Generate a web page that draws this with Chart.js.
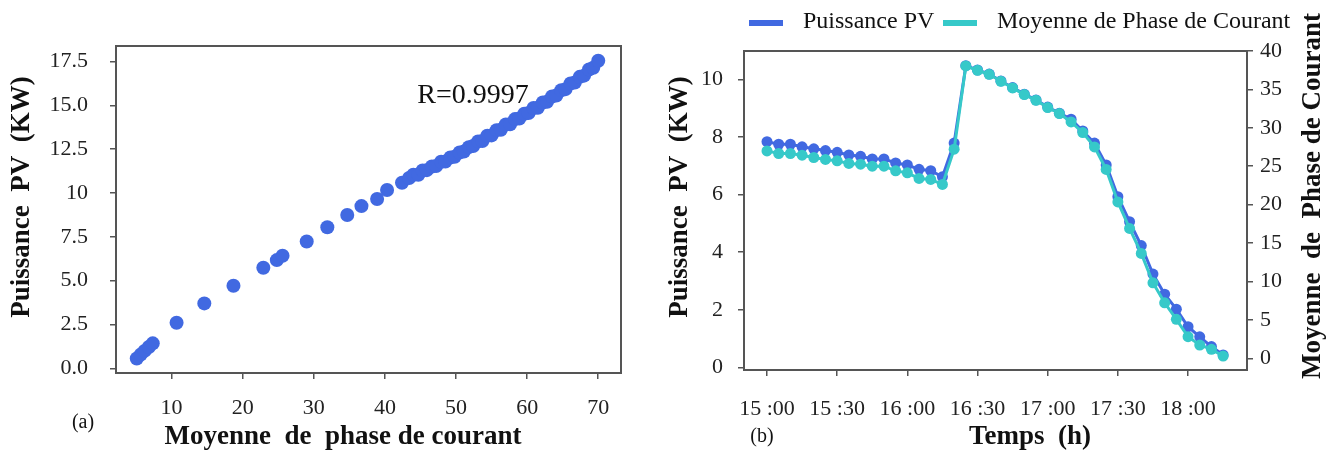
<!DOCTYPE html>
<html>
<head>
<meta charset="utf-8">
<script src="https://cdn.jsdelivr.net/npm/chart.js@4"></script>
<style>
  body { margin: 0; background: #fff; }
  #wrapA { position: absolute; left: 0; top: 0; width: 660px; height: 454px; }
  #wrapB { position: absolute; left: 660px; top: 0; width: 681px; height: 454px; }
</style>
</head>
<body>
<div id="wrapA"><canvas id="chartA" width="660" height="454"></canvas></div>
<div id="wrapB"><canvas id="chartB" width="681" height="454"></canvas></div>
<script>
// (a) moyenne de phase de courant vs puissance PV
const currentA = [5.1, 5.65, 6.2, 6.8, 7.35, 10.7, 14.6, 18.7, 22.9, 24.8, 25.6, 29.0, 31.9, 34.7, 36.7, 38.9, 40.3, 42.4,
  43.4, 44.0, 44.7, 45.3, 45.9, 46.6, 47.2, 47.9, 48.5, 49.2, 49.8, 50.5, 51.1, 51.8, 52.4, 53.1, 53.7, 54.4, 55.0, 55.7,
  56.3, 57.0, 57.6, 58.3, 58.9, 59.6, 60.2, 60.9, 61.5, 62.2, 62.8, 63.5, 64.1, 64.8, 65.4, 66.1, 66.7, 67.4, 68.0, 68.7,
  69.3, 70.0];
const powerA = [0.56, 0.78, 0.99, 1.21, 1.42, 2.6, 3.7, 4.71, 5.73, 6.17, 6.42, 7.23, 8.04, 8.74, 9.25, 9.65, 10.17, 10.58,
  10.85, 11.04, 11.04, 11.28, 11.3, 11.51, 11.54, 11.78, 11.79, 12.02, 12.06, 12.31, 12.36, 12.61, 12.68, 12.94, 12.96, 13.26,
  13.28, 13.58, 13.6, 13.9, 13.92, 14.21, 14.24, 14.52, 14.56, 14.84, 14.86, 15.16, 15.2, 15.5, 15.56, 15.86, 15.92, 16.24,
  16.3, 16.62, 16.69, 17.04, 17.14, 17.54];
const xTicksA = [10, 20, 30, 40, 50, 60, 70];
const yTicksA = [0, 2.5, 5, 7.5, 10, 12.5, 15, 17.5];
const yTickLabelsA = ['0.0', '2.5', '5.0', '7.5', '10', '12.5', '15.0', '17.5'];

// (b) time series
const times = ['15:00', '15:05', '15:10', '15:15', '15:20', '15:25', '15:30', '15:35', '15:40', '15:45',
  '15:50', '15:55', '16:00', '16:05', '16:10', '16:15', '16:20', '16:25', '16:30', '16:35',
  '16:40', '16:45', '16:50', '16:55', '17:00', '17:05', '17:10', '17:15', '17:20', '17:25',
  '17:30', '17:35', '17:40', '17:45', '17:50', '17:55', '18:00', '18:05', '18:10', '18:15'];
const puissancePV = [7.84, 7.75, 7.75, 7.66, 7.59, 7.53, 7.47, 7.38, 7.33, 7.24,
  7.24, 7.1, 7.03, 6.88, 6.83, 6.62, 7.79, 10.48, 10.33, 10.19,
  9.95, 9.72, 9.49, 9.29, 9.04, 8.83, 8.62, 8.21, 7.79, 7.03,
  5.93, 5.06, 4.23, 3.24, 2.54, 2.02, 1.41, 1.06, 0.72, 0.43];
const moyennePhase = [27.0, 26.66, 26.66, 26.44, 26.14, 25.88, 25.7, 25.36, 25.27, 25.01,
  25.01, 24.4, 24.14, 23.41, 23.28, 22.63, 27.22, 38.05, 37.49, 36.97,
  36.06, 35.19, 34.33, 33.59, 32.64, 31.86, 30.77, 29.39, 27.52, 24.58,
  20.36, 16.9, 13.65, 9.83, 7.23, 5.07, 2.81, 1.73, 1.17, 0.3];
const xTickLabelsB = ['15 :00', '15 :30', '16 :00', '16 :30', '17 :00', '17 :30', '18 :00'];
const yTicksB = [0, 2, 4, 6, 8, 10];
const y2TicksB = [0, 5, 10, 15, 20, 25, 30, 35, 40];

const serif = 'Liberation Serif';
const tickFont = { family: serif, size: 22 };
const titleFont = 'bold 27px "Liberation Serif"';
const blue = '#4169E1';
const cyan = '#36C9C9';

function toMin(s) {
    var p = s.replace(' ', '').split(':');
    return (Number(p[0]) - 15) * 60 + Number(p[1]);
}

// plot frame around chart area
const framePlugin = {
    id: 'frame',
    afterDatasetsDraw(chart) {
        const a = chart.chartArea;
        const ctx = chart.ctx;
        ctx.save();
        ctx.strokeStyle = '#555';
        ctx.lineWidth = 2;
        ctx.strokeRect(a.left, a.top, a.right - a.left, a.bottom - a.top);
        ctx.restore();
    }
};

// free text: axis titles, panel letters, R value
const textPlugin = {
    id: 'texts',
    afterDraw(chart, args, opts) {
        const ctx = chart.ctx;
        (opts.items || []).forEach(function (t) {
            ctx.save();
            ctx.translate(t.x, t.y);
            if (t.rotate) ctx.rotate(t.rotate);
            ctx.font = t.font;
            ctx.fillStyle = '#111';
            ctx.textAlign = 'center';
            ctx.textBaseline = 'middle';
            ctx.fillText(t.text, 0, 0);
            ctx.restore();
        });
    }
};

// legend drawn from datasets
const legendPlugin = {
    id: 'simpleLegend',
    afterDraw(chart, args, opts) {
        if (!opts.xs) return;
        const ctx = chart.ctx;
        chart.data.datasets.forEach(function (ds, i) {
            const x = opts.xs[i];
            ctx.save();
            ctx.fillStyle = ds.borderColor;
            ctx.fillRect(x, opts.y - 3, 34, 6);
            ctx.font = '24px "Liberation Serif"';
            ctx.fillStyle = '#111';
            ctx.textBaseline = 'middle';
            ctx.fillText(ds.label, x + 54, opts.y - 1);
            ctx.restore();
        });
    }
};

const tickGrid = { drawOnChartArea: false, drawTicks: true, tickLength: 6, tickColor: '#555', lineWidth: 1.5 };

new Chart(document.getElementById('chartA'), {
    type: 'scatter',
    data: {
        datasets: [{
                label: 'Puissance PV',
                data: currentA.map(function (x, i) { return { x: x, y: powerA[i] }; }),
                backgroundColor: blue,
                borderWidth: 0,
                pointRadius: 7
            }]
    },
    options: {
        responsive: false,
        animation: false,
        layout: { padding: { top: 46, right: 39, left: 0, bottom: 0 } },
        plugins: {
            legend: { display: false },
            tooltip: { enabled: false },
            texts: {
                items: [
                    { text: 'Puissance  PV  (KW)', x: 22, y: 197, rotate: -Math.PI / 2, font: titleFont },
                    { text: 'Moyenne  de  phase de courant', x: 343, y: 437, font: titleFont },
                    { text: '(a)', x: 83, y: 423, font: '20px "Liberation Serif"' },
                    { text: 'R=0.9997', x: 473, y: 96, font: '28px "Liberation Serif"' }
                ]
            }
        },
        scales: {
            x: {
                type: 'linear',
                min: 2.18,
                max: 73.2,
                grid: tickGrid,
                border: { display: false },
                afterBuildTicks: function (axis) { axis.ticks = xTicksA.map(function (v) { return { value: v }; }); },
                afterFit: function (axis) { axis.height = 81; },
                ticks: { font: tickFont, color: '#222', padding: 16, maxRotation: 0 }
            },
            y: {
                min: -0.27,
                max: 18.38,
                grid: tickGrid,
                border: { display: false },
                afterBuildTicks: function (axis) { axis.ticks = yTicksA.map(function (v) { return { value: v }; }); },
                afterFit: function (axis) { axis.width = 116; },
                ticks: {
                    font: tickFont, color: '#222', padding: 22,
                    callback: function (v, i) { return yTickLabelsA[i]; }
                }
            }
        }
    },
    plugins: [framePlugin, textPlugin]
});

new Chart(document.getElementById('chartB'), {
    type: 'line',
    data: {
        datasets: [{
                label: 'Puissance PV',
                data: times.map(function (t, i) { return { x: toMin(t), y: puissancePV[i] }; }),
                borderColor: blue,
                backgroundColor: blue,
                borderWidth: 3,
                pointRadius: 5.5,
                pointBorderWidth: 0,
                yAxisID: 'y',
                order: 2
            },
            {
                label: 'Moyenne de Phase de Courant',
                data: times.map(function (t, i) { return { x: toMin(t), y: moyennePhase[i] }; }),
                borderColor: cyan,
                backgroundColor: cyan,
                borderWidth: 3,
                pointRadius: 5.5,
                pointBorderWidth: 0,
                yAxisID: 'courant',
                order: 1
            }]
    },
    options: {
        responsive: false,
        animation: false,
        layout: { padding: { top: 51, right: 0, left: 0, bottom: 0 } },
        plugins: {
            legend: { display: false },
            tooltip: { enabled: false },
            simpleLegend: { xs: [89, 283], y: 23 },
            texts: {
                items: [
                    { text: 'Puissance  PV  (KW)', x: 20, y: 197, rotate: -Math.PI / 2, font: titleFont },
                    { text: 'Moyenne  de  Phase de Courant', x: 653, y: 196, rotate: -Math.PI / 2, font: titleFont },
                    { text: 'Temps  (h)', x: 370, y: 437, font: titleFont },
                    { text: '(b)', x: 102, y: 437, font: '20px "Liberation Serif"' }
                ]
            }
        },
        scales: {
            x: {
                type: 'linear',
                min: -9.83,
                max: 205.2,
                grid: tickGrid,
                border: { display: false },
                afterBuildTicks: function (axis) { axis.ticks = xTickLabelsB.map(function (l) { return { value: toMin(l) }; }); },
                afterFit: function (axis) { axis.height = 84; },
                ticks: {
                    font: tickFont, color: '#222', padding: 20, maxRotation: 0,
                    callback: function (v, i) { return xTickLabelsB[i]; }
                }
            },
            y: {
                position: 'left',
                min: -0.094,
                max: 10.99,
                grid: tickGrid,
                border: { display: false },
                afterBuildTicks: function (axis) { axis.ticks = yTicksB.map(function (v) { return { value: v }; }); },
                afterFit: function (axis) { axis.width = 84; },
                ticks: { font: tickFont, color: '#222', padding: 15 }
            },
            courant: {
                position: 'right',
                min: -1.52,
                max: 40,
                grid: tickGrid,
                border: { display: false },
                afterBuildTicks: function (axis) { axis.ticks = y2TicksB.map(function (v) { return { value: v }; }); },
                afterFit: function (axis) { axis.width = 94; },
                ticks: { font: tickFont, color: '#222', padding: 7 }
            }
        }
    },
    plugins: [framePlugin, textPlugin, legendPlugin]
});
</script>
</body>
</html>
